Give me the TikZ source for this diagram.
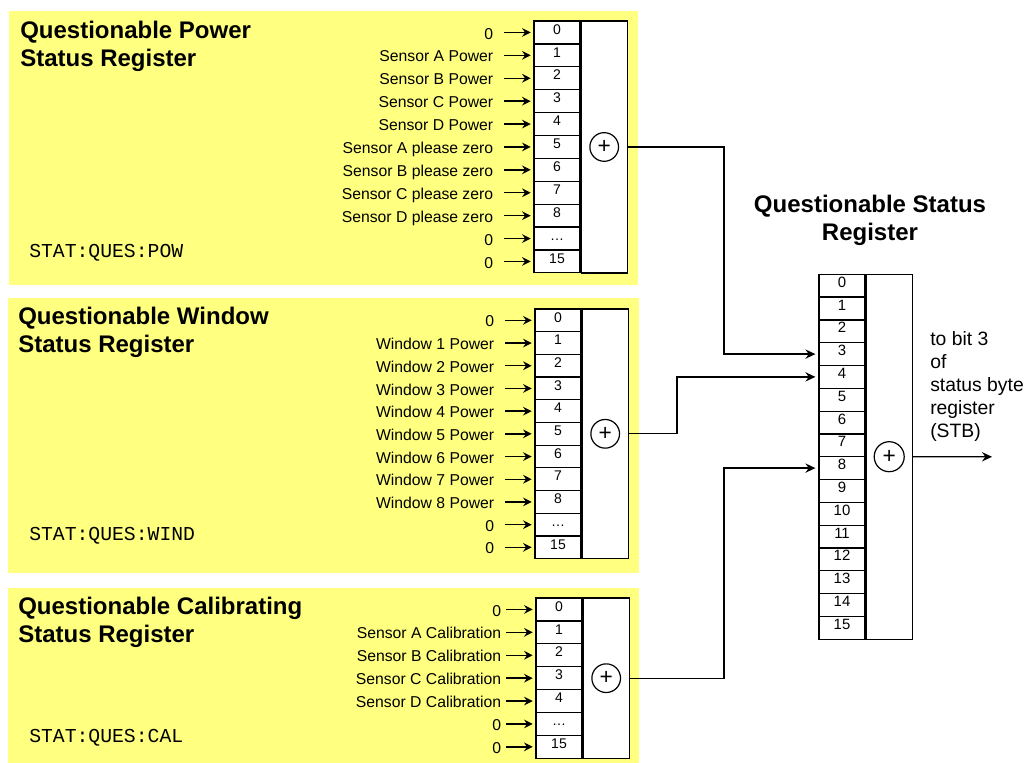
\documentclass[tikz,border=0pt]{standalone}
\usepackage{fontspec}
\setmainfont{Liberation Sans}
\setmonofont{Liberation Mono}
\usepackage{xcolor}
\usetikzlibrary{arrows.meta,positioning}

\definecolor{regyellow}{HTML}{FFFF80}

\tikzset{
  panel/.style={fill=regyellow},
  bitcell/.style={draw, fill=white, line width=0.9pt, minimum width=34.5pt, minimum height=17.1pt,
    inner sep=0pt, text height=7.5pt, text depth=5pt, font=\fontsize{10.5}{12}\selectfont},
  sumbox/.style={draw, fill=white, line width=0.9pt, minimum width=34.5pt, inner sep=0pt, anchor=north west},
  orgate/.style={draw, circle, line width=0.9pt, minimum size=21.5pt, inner sep=0pt,
    font=\fontsize{17}{17}\selectfont},
  bitlabel/.style={anchor=east, inner sep=0pt, text height=10.5pt, text depth=0.6pt,
    font=\fontsize{11.8}{14}\selectfont},
  feed/.style={-{Stealth[length=6.5pt,width=6.5pt,inset=2.2pt]}, line width=1pt},
  link/.style={-{Stealth[length=7.5pt,width=7pt,inset=2.5pt]}, line width=1pt, shorten >=2.25pt},
  title/.style={anchor=north west, inner sep=0pt, align=left,
    font=\fontsize{18}{21}\selectfont\bfseries},
  scpi/.style={anchor=west, inner sep=0pt, text height=8.4pt, text depth=0pt,
    font=\fontsize{14.8}{16}\selectfont\ttfamily}
}

\begin{document}
\begin{tikzpicture}[x=0.75pt,y=-0.75pt]
\useasboundingbox (0,0) rectangle (1029,763);

% power register
\fill[panel] (9,11) rectangle (638,285);
\node[title] (powtitle) at (20,21) {Questionable Power\\Status Register};
\node[scpi] (powcmd) at (29,252) {STAT:QUES:POW};
\foreach \bit/\lab [count=\i from 0] in {0/0, 1/Sensor A Power, 2/Sensor B Power,
    3/Sensor C Power, 4/Sensor D Power, 5/Sensor A please zero, 6/Sensor B please zero,
    7/Sensor C please zero, 8/Sensor D please zero, \dots/0, 15/0} {
  \node[bitcell] (p\i) at (557,{21+(\i+0.5)*22.9}) {\bit};
  \node[bitlabel, left=30pt of p\i.west] (pl\i) {\lab};
  \draw[feed, shorten <=8pt, shorten >=2pt] (pl\i.east) -- (p\i.west);
}
\node[sumbox, minimum height=188.9pt] (pbox) at (p0.north east) {};
\node[orgate] (psum) at (pbox.center) {+};

% window register
\fill[panel] (8,298) rectangle (639,573);
\node[title] (wintitle) at (18,306.5) {Questionable Window\\Status Register};
\node[scpi] (wincmd) at (29,535) {STAT:QUES:WIND};
\foreach \bit/\lab [count=\i from 0] in {0/0, 1/Window 1 Power, 2/Window 2 Power,
    3/Window 3 Power, 4/Window 4 Power, 5/Window 5 Power, 6/Window 6 Power,
    7/Window 7 Power, 8/Window 8 Power, \dots/0, 15/0} {
  \node[bitcell] (w\i) at (558,{309+(\i+0.5)*22.7}) {\bit};
  \node[bitlabel, left=30pt of w\i.west] (wl\i) {\lab};
  \draw[feed, shorten <=8pt, shorten >=2pt] (wl\i.east) -- (w\i.west);
}
\node[sumbox, minimum height=187.3pt] (wbox) at (w0.north east) {};
\node[orgate] (wsum) at (wbox.center) {+};

% calibrating register
\fill[panel] (8,588) rectangle (639,763);
\node[title] (caltitle) at (18,596.5) {Questionable Calibrating\\Status Register};
\node[scpi] (calcmd) at (29,737) {STAT:QUES:CAL};
\foreach \bit/\lab [count=\i from 0] in {0/0, 1/Sensor A Calibration, 2/Sensor B Calibration,
    3/Sensor C Calibration, 4/Sensor D Calibration, \dots/0, 15/0} {
  \node[bitcell] (c\i) at (559,{598+(\i+0.5)*22.9}) {\bit};
  \node[bitlabel, left=25.5pt of c\i.west] (cl\i) {\lab};
  \draw[feed, shorten <=3.75pt, shorten >=2pt] (cl\i.east) -- (c\i.west);
}
\node[sumbox, minimum height=120.2pt] (cbox) at (c0.north east) {};
\node[orgate] (csum) at (cbox.center) {+};

% questionable status register
\node[title, anchor=north, align=center] (questitle) at (870,195) {Questionable Status\\Register};
\foreach \i in {0,...,15} {
  \node[bitcell, font=\fontsize{11.2}{12}\selectfont] (q\i) at (842,{274.3+(\i+0.5)*22.8}) {\i};
}
\node[sumbox, minimum height=273.6pt] (qbox) at (q0.north east) {};
\node[orgate, minimum size=22.5pt] (qsum) at (qbox.center) {+};
\node[anchor=north west, inner sep=0pt, align=left, font=\fontsize{14.5}{17.25}\selectfont]
  (stbnote) at (930,331) {to bit 3\\of\\status byte\\register\\(STB)};

% connections
\coordinate (busA) at (724,0);
\coordinate (busB) at (677,0);
\coordinate (stb) at (992,456.8);
\draw[link] (pbox.east) -| (busA |- q3.west) -- (q3.west);
\draw[link] (wbox.east) -| (busB |- q4.west) -- (q4.west);
\draw[link] (cbox.east) -| (busA |- q8.west) -- (q8.west);
\draw[link, shorten >=0pt] (qbox.east) -- (stb);
\end{tikzpicture}
\end{document}
